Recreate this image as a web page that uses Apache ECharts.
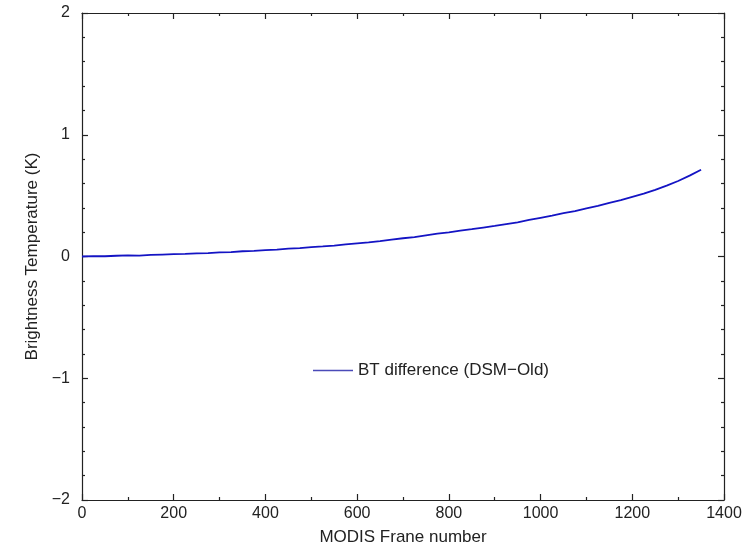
<!DOCTYPE html>
<html>
<head>
<meta charset="utf-8">
<script src="https://cdn.jsdelivr.net/npm/echarts@6/dist/echarts.min.js"></script>
<style>
html,body{margin:0;padding:0;background:#fff;}
#chart{width:749px;height:549px;}
</style>
</head>
<body>
<div id="chart"></div>
<script>
var frames = [0,25,50,75,100,125,150,175,200,225,250,275,300,325,350,375,400,425,450,475,500,525,550,575,600,625,650,675,700,725,750,775,800,825,850,875,900,925,950,975,1000,1025,1050,1075,1100,1125,1150,1175,1200,1225,1250,1275,1300,1325,1350];
var btDiff = [0.000,0.003,0.002,0.006,0.009,0.008,0.013,0.016,0.019,0.021,0.026,0.028,0.034,0.036,0.043,0.047,0.053,0.057,0.064,0.068,0.077,0.083,0.090,0.100,0.108,0.116,0.127,0.139,0.150,0.160,0.174,0.188,0.199,0.212,0.224,0.238,0.251,0.266,0.281,0.300,0.318,0.336,0.356,0.373,0.396,0.416,0.441,0.463,0.490,0.516,0.548,0.582,0.620,0.664,0.712];
var seriesName = 'BT difference (DSM\u2212Old)';
var xTitle = 'MODIS Frane number';
var yTitle = 'Brightness Temperature (K)';

var pts = frames.map(function(f,i){ return [f, btDiff[i]]; });
var txt = '#222';
var font = 'Liberation Sans, Arial, sans-serif';
function fmtY(v){ return String(v).replace('-', '\u2212'); }
function fmtX(v){ return String(v); }
var lineStyle = {color:'#222', width:1.2};

var chart = echarts.init(document.getElementById('chart'));
chart.setOption({
  animation:false,
  backgroundColor:'#fff',
  grid:{left:82, right:25, top:13, bottom:49, containLabel:false, outerBoundsMode:'none'},
  legend:{
    show:true, left:308, top:357, itemWidth:40, itemHeight:1.5, itemGap:10,
    icon:'rect',
    textStyle:{fontSize:17, color:txt, fontFamily:font},
    data:[{name:seriesName, itemStyle:{color:'#4a4ab8'}}]
  },
  xAxis:[{
    type:'value', min:0, max:1400, interval:200, position:'bottom',
    name:xTitle, nameLocation:'middle', nameGap:29,
    nameTextStyle:{fontSize:17, color:txt, fontFamily:font},
    axisLine:{show:true, onZero:false, lineStyle:lineStyle},
    axisTick:{show:true, inside:true, length:6, lineStyle:lineStyle},
    minorTick:{show:true, splitNumber:2, length:3, lineStyle:lineStyle},
    axisLabel:{fontSize:16, color:txt, margin:6, fontFamily:font, formatter:fmtX},
    splitLine:{show:false}
  },{
    type:'value', min:0, max:1400, interval:200, position:'top',
    axisLine:{show:true, onZero:false, lineStyle:lineStyle},
    axisTick:{show:true, inside:true, length:6, lineStyle:lineStyle},
    minorTick:{show:true, splitNumber:2, length:3, lineStyle:lineStyle},
    axisLabel:{show:false}, splitLine:{show:false}
  }],
  yAxis:[{
    type:'value', min:-2, max:2, interval:1, position:'left',
    name:yTitle, nameLocation:'middle', nameGap:38, nameRotate:90,
    nameTextStyle:{fontSize:17, color:txt, fontFamily:font},
    axisLine:{show:true, onZero:false, lineStyle:lineStyle},
    axisTick:{show:true, inside:true, length:6, lineStyle:lineStyle},
    minorTick:{show:true, splitNumber:5, length:3, lineStyle:lineStyle},
    axisLabel:{fontSize:16, color:txt, margin:12, fontFamily:font, formatter:fmtY},
    splitLine:{show:false}
  },{
    type:'value', min:-2, max:2, interval:1, position:'right',
    axisLine:{show:true, onZero:false, lineStyle:lineStyle},
    axisTick:{show:true, inside:true, length:6, lineStyle:lineStyle},
    minorTick:{show:true, splitNumber:5, length:3, lineStyle:lineStyle},
    axisLabel:{show:false}, splitLine:{show:false}
  }],
  series:[{
    name:seriesName, type:'line', data:pts, symbol:'none', showSymbol:false,
    xAxisIndex:0, yAxisIndex:0,
    lineStyle:{color:'#1414c4', width:1.8},
    itemStyle:{color:'#1414c4'}
  }]
});
</script>
</body>
</html>
